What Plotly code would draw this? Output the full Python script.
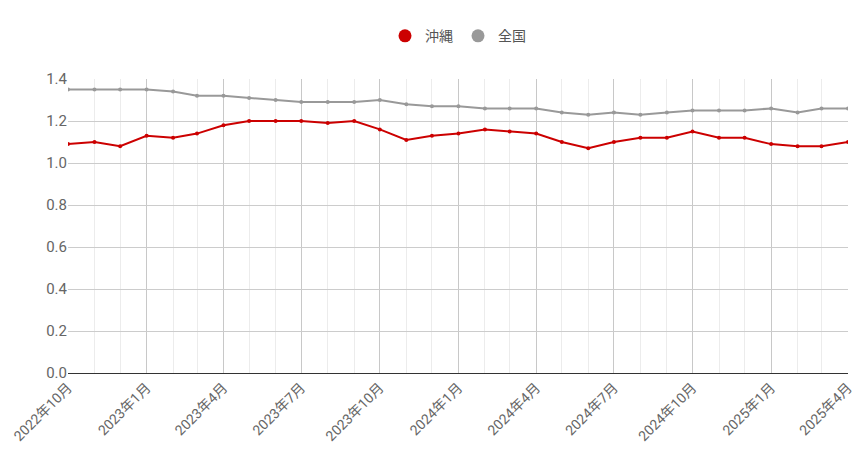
import plotly.graph_objects as go
import pandas as pd

months = pd.date_range("2022-10-01", "2025-04-01", freq="MS")
okinawa = [1.09,1.10,1.08,1.13,1.12,1.14,1.18,1.20,1.20,1.20,1.19,1.20,1.16,1.11,1.13,
           1.14,1.16,1.15,1.14,1.10,1.07,1.10,1.12,1.12,1.15,1.12,1.12,1.09,1.08,1.08,1.10]
national = [1.35,1.35,1.35,1.35,1.34,1.32,1.32,1.31,1.30,1.29,1.29,1.29,1.30,1.28,1.27,
            1.27,1.26,1.26,1.26,1.24,1.23,1.24,1.23,1.24,1.25,1.25,1.25,1.26,1.24,1.26,1.26]
names = ["沖縄", "全国"]
colors = ["#cc0000", "#999999"]

fig = go.Figure()
for name, ys, c in zip(names, [okinawa, national], colors):
    fig.add_trace(go.Scatter(x=months, y=ys, name=name, mode="lines+markers", showlegend=False,
                             line=dict(color=c, width=2), marker=dict(size=4, color=c)))
for name, c in zip(names, colors):
    fig.add_trace(go.Scatter(x=[None], y=[None], name=name, mode="markers",
                             marker=dict(size=13, color=c)))
fig.update_layout(
    width=866, height=464, margin=dict(l=60, r=26, t=67, b=99),
    plot_bgcolor="white", paper_bgcolor="white",
    font=dict(family="Roboto, Noto Sans CJK JP", size=14, color="#666666"),
    legend=dict(orientation="h", x=0.5, xanchor="center", y=1.2, yanchor="top",
                font=dict(size=14, color="#555555"), itemwidth=30),
)
fig.update_xaxes(type="date", range=[months[0], months[-1]], dtick="M3", tick0="2022-10-01",
                 tickformat="%Y年%-m月", tickangle=-45, showgrid=True, gridcolor="#c8c8c8",
                 showline=True, linecolor="#333333", automargin=False,
                 minor=dict(dtick="M1", showgrid=True, gridcolor="#ececec"))
fig.update_yaxes(range=[0, 1.4], dtick=0.2, tickformat=".1f", showgrid=True, gridcolor="#cccccc",
                 zeroline=False, automargin=False, tickfont=dict(size=15))
fig.write_html("out.html")
